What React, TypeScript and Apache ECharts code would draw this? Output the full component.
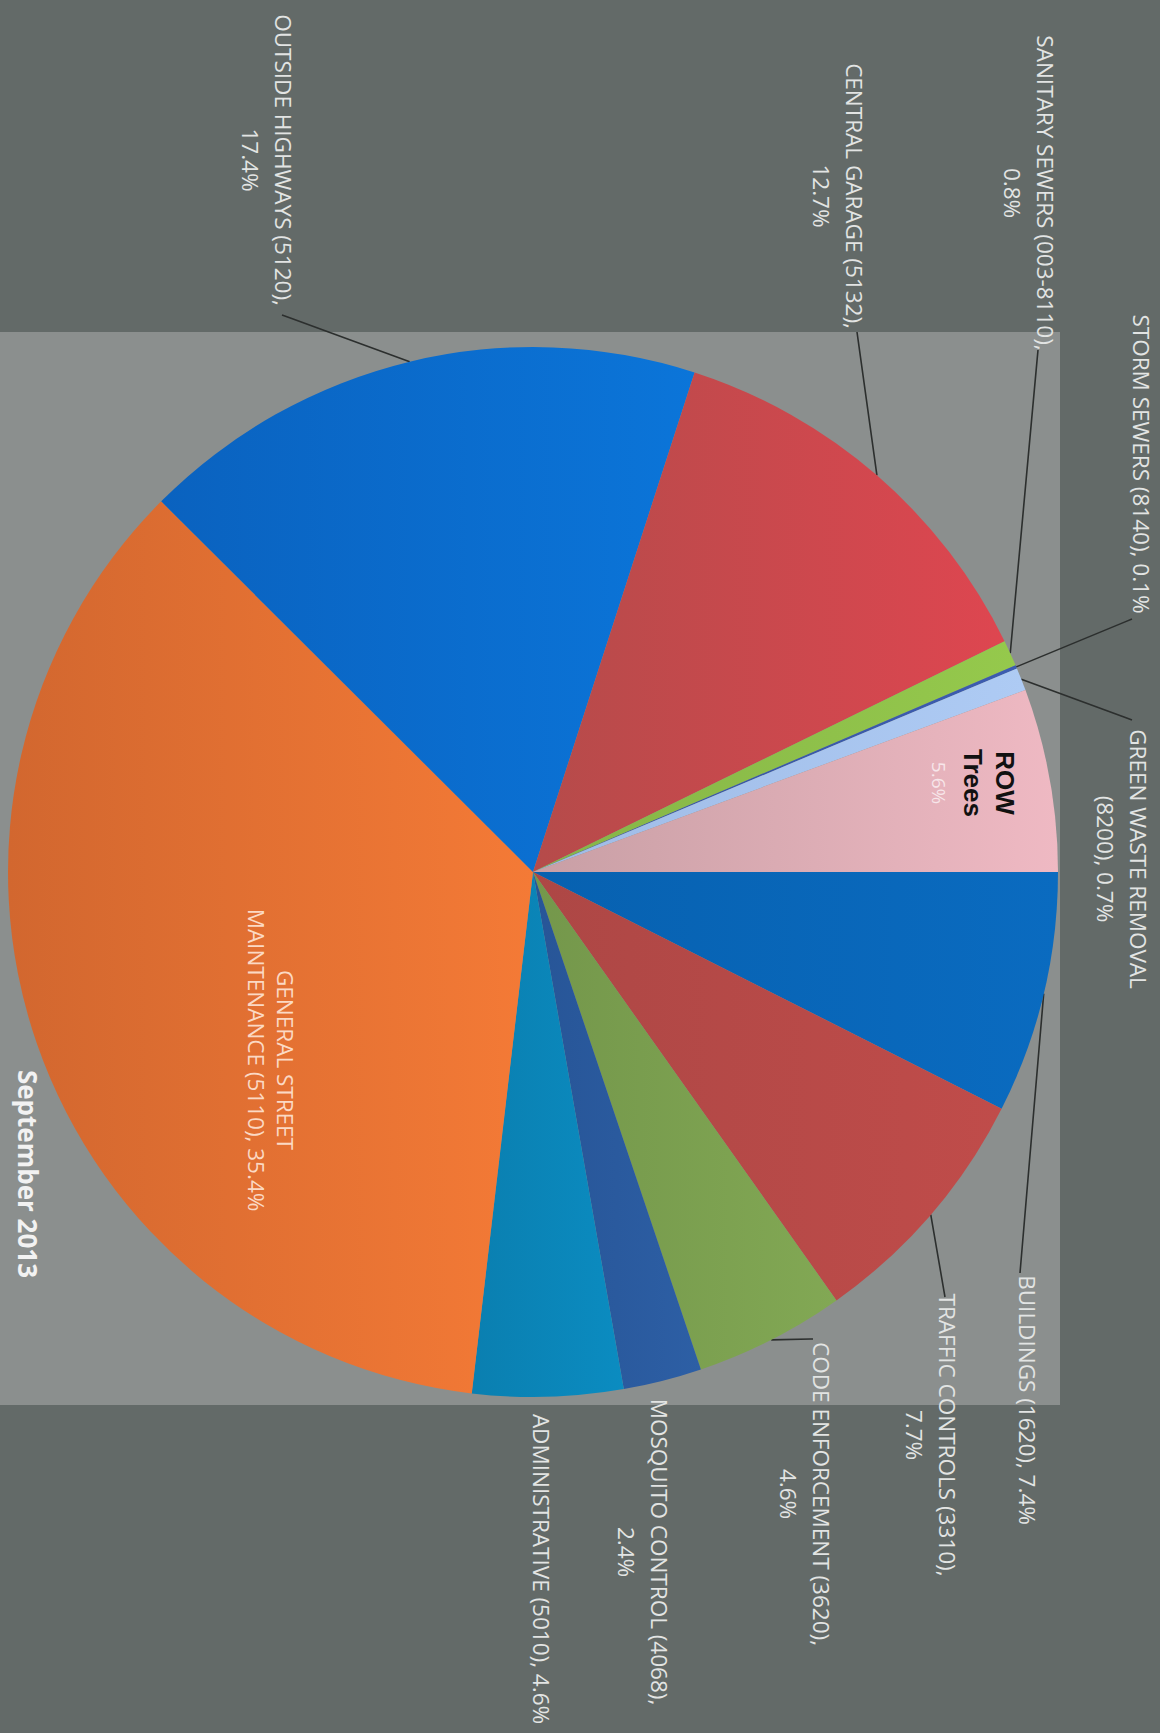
import React, { useEffect, useRef } from "react";
import * as echarts from "echarts";

// ---- data (clockwise from 12 o'clock in the original, un-rotated chart) ----
const categories = [
  "BUILDINGS (1620)",
  "TRAFFIC CONTROLS (3310)",
  "CODE ENFORCEMENT (3620)",
  "MOSQUITO CONTROL (4068)",
  "ADMINISTRATIVE (5010)",
  "GENERAL STREET MAINTENANCE (5110)",
  "OUTSIDE HIGHWAYS (5120)",
  "CENTRAL GARAGE (5132)",
  "SANITARY SEWERS (003-8110)",
  "STORM SEWERS (8140)",
  "GREEN WASTE REMOVAL (8200)",
  "ROW Trees",
];
const shares = [7.4, 7.7, 4.6, 2.4, 4.6, 35.4, 17.4, 12.7, 0.8, 0.1, 0.7, 5.6];
const labelTexts = [
  "BUILDINGS (1620), 7.4%",
  "TRAFFIC CONTROLS (3310),\n7.7%",
  "CODE ENFORCEMENT (3620),\n4.6%",
  "MOSQUITO CONTROL (4068),\n2.4%",
  "ADMINISTRATIVE (5010), 4.6%",
  "{g|GENERAL STREET}\n{g|MAINTENANCE (5110), 35.4%}",
  "OUTSIDE HIGHWAYS (5120),\n17.4%",
  "CENTRAL GARAGE (5132),\n12.7%",
  "SANITARY SEWERS (003-8110),\n0.8%",
  "STORM SEWERS (8140), 0.1%",
  "GREEN WASTE REMOVAL\n(8200), 0.7%",
  "{k|ROW}\n{k|Trees}\n{w|5.6%}",
];
const titleText = "September 2013";

// ---- styling / layout (original orientation: 1733 x 1160) ----
// [lighter (outer/top) shade, darker shade]
const colors: string[][] = [
  ["#0a6bc0", "#0761b0"],
  ["#c04c4a", "#ad4745"],
  ["#82a854", "#74974b"],
  ["#2d5fa5", "#275597"],
  ["#0b8cc1", "#0a7fb0"],
  ["#f47a36", "#d2672f"],
  ["#0b75d9", "#0a62bf"],
  ["#de4650", "#b54b4a"],
  ["#95c94c", "#85b447"],
  ["#3c5cb0", "#3556a0"],
  ["#aecbf4", "#9fbbe6"],
  ["#efb9c3", "#c89fa5"],
];
const labelCenters: number[][] = [
  [1400, 133], [1435, 229], [1494, 355], [1552, 517], [1569, 619], [1060, 889],
  [160, 893], [196, 322], [193, 131], [464, 19], [859, 38], [783, 189],
];
const leaderEnds: (number[] | null)[] = [
  [1273, 140], [1297, 215], [1339, 347], null, null, null,
  [315, 878], [332, 303], [350, 122], [619, 28], [720, 28], null,
];

const W = 1733;
const H = 1160;

export default function App() {
  const ref = useRef<HTMLDivElement>(null);
  useEffect(() => {
    document.body.style.margin = "0";
    const chart = echarts.init(ref.current!, null, { renderer: "svg" });
    const data = categories.map((name, i) => ({
      name,
      value: shares[i],
      itemStyle: {
        color: new echarts.graphic.LinearGradient(0, 0, 0, 1, [
          { offset: 0, color: colors[i][0] },
          { offset: 1, color: colors[i][1] },
        ]),
      },
      labelLine: { show: leaderEnds[i] !== null },
    }));
    chart.setOption({
      animation: false,
      backgroundColor: "#636a68",
      graphic: [
        {
          type: "rect",
          shape: { x: 332, y: 100, width: 1073, height: 1060 },
          style: { fill: "#8b8f8e" },
          z: -10,
        },
        {
          type: "text",
          x: 1174,
          y: 1132,
          style: {
            text: titleText,
            fill: "#f2f2f2",
            font: "bold 26px 'Open Sans', sans-serif",
            textAlign: "center",
            textVerticalAlign: "middle",
          },
        },
      ],
      series: [
        {
          type: "pie",
          center: [872, 627],
          radius: 525,
          startAngle: 90,
          clockwise: true,
          avoidLabelOverlap: false,
          data,
          label: {
            show: true,
            position: "outside",
            formatter: (p: any) => labelTexts[p.dataIndex],
            color: "#e2e4e3",
            fontFamily: "'Open Sans', sans-serif",
            fontSize: 22.5,
            lineHeight: 33,
            align: "center",
            rich: {
              g: {
                color: "#fbd9c4",
                fontFamily: "'Open Sans', sans-serif",
                fontSize: 22.5,
                lineHeight: 29,
                align: "center",
              },
              k: {
                color: "#111111",
                fontFamily: "'Liberation Sans', Arial, sans-serif",
                fontWeight: "bold",
                fontSize: 26,
                lineHeight: 32,
                align: "center",
              },
              w: {
                color: "#f7e6ea",
                fontFamily: "'Open Sans', sans-serif",
                fontSize: 19,
                lineHeight: 36,
                align: "center",
              },
            },
          },
          labelLine: {
            show: true,
            length: 10,
            length2: 10,
            lineStyle: { color: "#2c2f2e", width: 1.6 },
          },
          labelLayout: (params: any) => {
            const i = params.dataIndex;
            const c = labelCenters[i];
            const out: any = {
              x: c[0],
              y: c[1],
              align: "center",
              verticalAlign: "middle",
            };
            const end = leaderEnds[i];
            if (end && params.labelLinePoints) {
              const p0 = params.labelLinePoints[0];
              const mid = [
                end[0] + (p0[0] - end[0]) * 0.06,
                end[1] + (p0[1] - end[1]) * 0.06,
              ];
              out.labelLinePoints = [p0, mid, end];
            }
            return out;
          },
        },
      ],
    });
    return () => chart.dispose();
  }, []);

  return (
    <div
      style={{
        position: "relative",
        width: 1160,
        height: 1733,
        overflow: "hidden",
        background: "#636a68",
      }}
    >
      <div
        style={{
          position: "absolute",
          left: 0,
          top: 0,
          width: W,
          height: H,
          transformOrigin: "0 0",
          transform: "translateX(1160px) rotate(90deg)",
        }}
      >
        <div ref={ref} style={{ width: W, height: H }} />
      </div>
    </div>
  );
}
